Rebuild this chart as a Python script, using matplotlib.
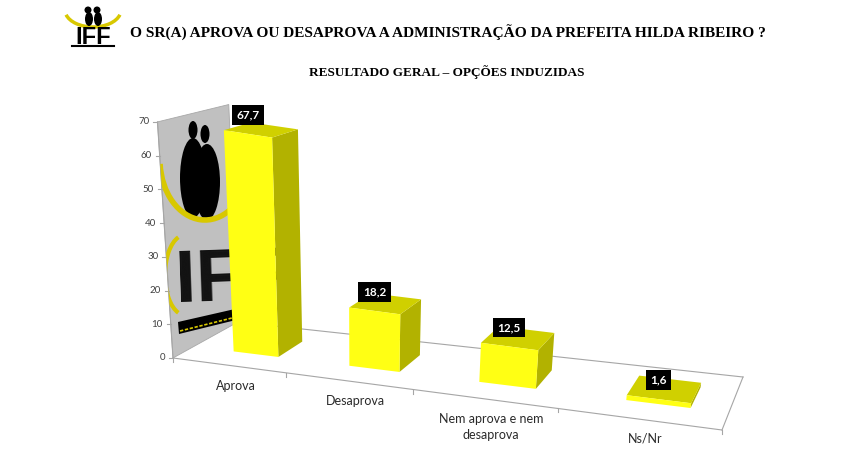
import numpy as np
import matplotlib.pyplot as plt
from matplotlib.patches import Polygon, Ellipse, Circle, Arc

categories = ["Aprova", "Desaprova", "Nem aprova e nem\ndesaprova", "Ns/Nr"]
values = [67.7, 18.2, 12.5, 1.6]
value_labels = ["67,7", "18,2", "12,5", "1,6"]
y_ticks = [0, 10, 20, 30, 40, 50, 60, 70]
y_max = 70

title = "O SR(A) APROVA OU DESAPROVA A ADMINISTRAÇÃO DA PREFEITA HILDA RIBEIRO ?"
subtitle = "RESULTADO GERAL – OPÇÕES INDUZIDAS"

W, H = 853, 469
fig = plt.figure(figsize=(W / 100, H / 100), dpi=100)
ax = fig.add_axes([0, 0, 1, 1])
ax.set_xlim(0, W)
ax.set_ylim(H, 0)
ax.axis("off")

# floor of the 3d box in pixels: front-left, front-right, back-right, back-left
floor = np.array([[173, 358], [722, 430], [743, 377], [238, 322]], float)
vp = np.array([360.0, 3200.0])  # vertical lines converge down here


def homography(src, dst):
    A, b = [], []
    for (x, y), (X, Y) in zip(src, dst):
        A.append([x, y, 1, 0, 0, 0, -X * x, -X * y])
        b.append(X)
        A.append([0, 0, 0, x, y, 1, -Y * x, -Y * y])
        b.append(Y)
    h = np.linalg.solve(np.array(A, float), np.array(b, float))
    return np.append(h, 1).reshape(3, 3)


Hm = homography([(0, 0), (1, 0), (1, 1), (0, 1)], floor)


def proj(u, z, v):
    p = Hm @ np.array([u, z, 1.0])
    base = p[:2] / p[2]
    s = (3.38 - 0.3 * u) * (1 - 0.08 * z)
    d = base - vp
    d = d / np.hypot(*d)
    return base + v * s * d


def face(pts, color, z):
    ax.add_patch(Polygon([proj(*p) for p in pts], closed=True, fc=color,
                         ec="none", zorder=z))


# side wall with the logo picture
wall = Polygon([proj(0, 0, 0), proj(0, 0, y_max), proj(0, 1, y_max), proj(0, 1, 0)],
               closed=True, fc="#c0c0c0", ec="#a8a8a8", lw=0.6, zorder=1)
ax.add_patch(wall)
yel = "#d8c800"
deco = [
    Ellipse((193, 178), 26, 80, fc="black", zorder=2),
    Ellipse((207, 182), 26, 76, fc="black", zorder=2),
    Ellipse((193, 130), 9, 18, fc="black", zorder=2),
    Ellipse((205, 134), 9, 18, fc="black", zorder=2),
    Arc((205, 160), 90, 120, theta1=20, theta2=175, ec=yel, lw=4, zorder=2.1),
    Arc((185, 275), 40, 80, theta1=100, theta2=260, ec=yel, lw=3, zorder=2.1),
    Polygon([[178, 322], [235, 309], [236, 320], [179, 334]], fc="black", zorder=2),
]
for p in deco:
    p.set_clip_path(wall)
    ax.add_patch(p)
ax.plot([180, 232], [331, 318], color=yel, lw=1.2, ls=(0, (2, 1)), zorder=2.2)
t = ax.text(174, 302, "IFF", fontsize=54, fontweight="bold", color="#111111",
            family="Liberation Sans", va="baseline", ha="left", rotation=2, zorder=2)
t.set_clip_path(wall)

# floor outline and axis lines
line_c = "#a6a6a6"
for a, b in [((0, 0), (1, 0)), ((1, 0), (1, 1)), ((1, 1), (0, 1))]:
    p1, p2 = proj(*a, 0), proj(*b, 0)
    ax.plot([p1[0], p2[0]], [p1[1], p2[1]], color=line_c, lw=0.8, zorder=1.5)
p1, p2 = proj(0, 0, 0), proj(0, 0, y_max)
ax.plot([p1[0], p2[0]], [p1[1], p2[1]], color=line_c, lw=0.8, zorder=1.5)

for yt in y_ticks:
    p = proj(0, 0, yt)
    ax.plot([p[0] - 4, p[0]], [p[1], p[1]], color=line_c, lw=0.8)
    ax.text(p[0] - 8, p[1], str(yt), ha="right", va="center", fontsize=7,
            color="#404040", family="Lato")

n = len(values)
for k in range(n + 1):
    p = proj(k / n, 0, 0)
    ax.plot([p[0], p[0]], [p[1], p[1] + 4], color=line_c, lw=0.8)

# bars
half = 0.05
shift = 0.018
z0, z1 = 0.3, 0.7
for i, v in enumerate(values):
    uc = (i + 0.5) / n + shift
    ul, ur = uc - half, uc + half
    zo = 3 + i
    face([(ur, z0, 0), (ur, z1, 0), (ur, z1, v), (ur, z0, v)], "#b2b200", zo)
    face([(ul, z0, v), (ur, z0, v), (ur, z1, v), (ul, z1, v)], "#d0d000", zo)
    face([(ul, z0, 0), (ur, z0, 0), (ur, z0, v), (ul, z0, v)], "#ffff14", zo)

    top = proj(uc, z0, v)
    ax.text(top[0], top[1] - 19, value_labels[i], ha="center", va="center",
            fontsize=8.5, fontweight="bold", color="white", family="Lato", zorder=20,
            bbox=dict(boxstyle="square,pad=0.38", fc="black", ec="none"))

    lp = proj(uc - 0.008, 0.05, 0)
    ax.text(lp[0], lp[1] + 16, categories[i], ha="center", va="top", fontsize=9,
            color="#2a2a2a", family="Lato", linespacing=1.45)

# header logo
ax.add_patch(Arc((93, 10), 56, 34, theta1=10, theta2=170, ec=yel, lw=2.5))
ax.add_patch(Ellipse((89, 19), 8, 14, fc="black"))
ax.add_patch(Ellipse((98, 19), 8, 14, fc="black"))
ax.add_patch(Circle((88, 10), 3.5, fc="black"))
ax.add_patch(Circle((97, 10), 3.5, fc="black"))
ax.text(93, 44, "IFF", ha="center", va="baseline", fontsize=17, fontweight="bold",
        color="black", family="Liberation Sans")
ax.plot([72, 114], [46.5, 46.5], color="black", lw=1.5)

# titles, sized to the widths in the reference
tt = ax.text(130, 38, title, ha="left", va="baseline", fontsize=11, fontweight="bold",
             family="Liberation Serif", color="black")
st = ax.text(447, 76, subtitle, ha="center", va="baseline", fontsize=8, fontweight="bold",
             family="Liberation Serif", color="black")
fig.canvas.draw()
r = fig.canvas.get_renderer()
for txt, target in [(tt, 635), (st, 276)]:
    w = txt.get_window_extent(r).width
    txt.set_fontsize(txt.get_fontsize() * target / w)

fig.savefig("out.png", dpi=100)
